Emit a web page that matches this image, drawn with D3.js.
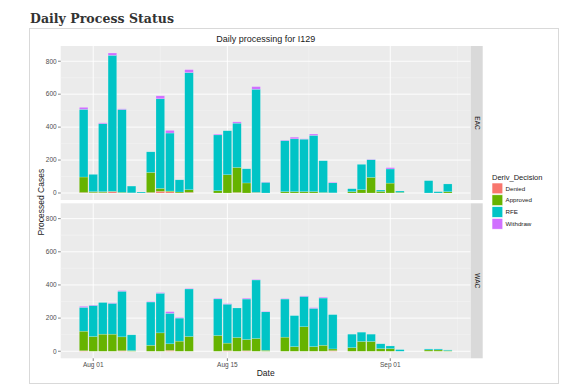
<!DOCTYPE html>
<html lang="en">
<head>
<meta charset="UTF-8" />
<title>Daily Process Status</title>
<script src="https://d3js.org/d3.v7.min.js"></script>
<style>
  body { margin: 0; background: #fff; }
  svg { display: block; font-family: "Liberation Sans", Arial, sans-serif; }
  .grid-major { stroke: #fff; stroke-width: 0.9px; }
  .grid-minor { stroke: #f4f4f4; stroke-width: 0.5px; }
  .tick-label { font-size: 6.5px; fill: #4d4d4d; }
  .tick-mark { stroke: #333; stroke-width: 0.6px; }
  .strip-text { font-size: 6.5px; fill: #1a1a1a; text-anchor: middle; }
  .bar { stroke: #fff; stroke-opacity: 0.35; stroke-width: 0.5px; }
</style>
</head>
<body>
<svg width="578" height="391"></svg>
<script>
// categories / data
const dates = ["2016-07-31","2016-08-01","2016-08-02","2016-08-03","2016-08-04","2016-08-05","2016-08-06",
  "2016-08-07","2016-08-08","2016-08-09","2016-08-10","2016-08-11",
  "2016-08-14","2016-08-15","2016-08-16","2016-08-17","2016-08-18","2016-08-19",
  "2016-08-21","2016-08-22","2016-08-23","2016-08-24","2016-08-25","2016-08-26",
  "2016-08-28","2016-08-29","2016-08-30","2016-08-31","2016-09-01","2016-09-02",
  "2016-09-05","2016-09-06","2016-09-07"];
const decisions = ["Denied", "Approved", "RFE", "Withdraw"];
const panels = ["EAC", "WAC"];

// EAC series
const eacDenied   = [3,2,2,8,0,0,0, 3,10,8,0,4, 0,0,3,0,2,0, 0,0,0,0,0,0, 0,0,0,0,0,0, 0,0,0];
const eacApproved = [94,6,6,2,4,1,0, 122,18,4,6,16, 14,111,152,61,2,0, 8,8,8,8,3,1, 8,20,95,10,60,4, 0,0,8];
const eacRFE      = [411,105,413,826,503,41,6, 125,544,352,74,711, 339,267,269,86,626,65, 310,321,319,342,193,61, 18,154,107,8,86,8, 75,8,47];
const eacWithdraw = [12,0,5,14,4,0,0, 0,18,16,0,18, 5,0,8,0,16,2, 3,10,2,8,0,4, 0,0,2,0,8,0, 0,0,0];

// WAC series
const wacDenied   = [3,0,0,0,3,0,0, 0,0,5,0,0, 0,3,0,3,0,0, 0,0,0,0,0,4, 0,0,0,0,0,0, 0,0,0];
const wacApproved = [118,89,103,103,84,4,0, 36,111,40,61,89, 95,46,83,68,77,6, 85,28,148,28,36,10, 22,59,59,16,16,0, 8,8,4];
const wacRFE      = [144,187,191,186,275,95,0, 261,239,184,139,287, 221,235,178,244,353,232, 230,187,183,231,285,207, 81,56,44,29,16,10, 6,6,4];
const wacWithdraw = [6,3,0,3,4,0,0, 3,4,10,4,3, 4,3,0,5,3,3, 3,0,3,4,5,0, 0,0,0,0,0,0, 0,0,0];

const yTicks = [0, 200, 400, 600, 800];
const yMinor = [100, 300, 500, 700];
const xTicks = ["2016-08-01", "2016-08-15", "2016-09-01"];
const xMinor = ["2016-08-08", "2016-08-23T12:00", "2016-09-08"];

const colors = ["#F8766D", "#66B300", "#00C4C6", "#D070FF"];

const series = {
  EAC: [eacDenied, eacApproved, eacRFE, eacWithdraw],
  WAC: [wacDenied, wacApproved, wacRFE, wacWithdraw]
};

const svg = d3.select("svg");
const parse = s => new Date(s + (s.length > 10 ? ":00Z" : "T00:00:00Z"));
const DAY = 864e5;

// page title and card
svg.append("text")
  .attr("x", 30).attr("y", 23)
  .attr("font-family", "'DejaVu Serif', serif")
  .attr("font-weight", "bold")
  .attr("font-size", 12.5)
  .attr("textLength", 144)
  .attr("fill", "#333")
  .text("Daily Process Status");

svg.append("rect")
  .attr("x", 29.5).attr("y", 28.5)
  .attr("width", 529).attr("height", 355)
  .attr("fill", "#fff")
  .attr("stroke", "#d9d9d9");

// layout
const px0 = 60.7, px1 = 470.7, stripW = 12;
const panelY = { EAC: [46, 200], WAC: [203.3, 358.3] };

// x scale: data range +-0.45 day, expanded 5%
const dts = dates.map(parse);
const lo = +d3.min(dts) - 0.45 * DAY, hi = +d3.max(dts) + 0.45 * DAY;
const pad = (hi - lo) * 0.05;
const x = d3.scaleUtc().domain([new Date(lo - pad), new Date(hi + pad)]).range([px0, px1]);
const barW = x(new Date(+dts[0] + 0.9 * DAY)) - x(dts[0]);

const yMax = 850, yPad = yMax * 0.05;

panels.forEach(p => {
  const [top, bot] = panelY[p];
  const y = d3.scaleLinear().domain([-yPad, yMax + yPad]).range([bot, top]);
  const g = svg.append("g");

  g.append("rect").attr("x", px0).attr("y", top)
    .attr("width", px1 - px0).attr("height", bot - top).attr("fill", "#ebebeb");

  g.selectAll(".ymin").data(yMinor).join("line").attr("class", "grid-minor")
    .attr("x1", px0).attr("x2", px1).attr("y1", d => y(d)).attr("y2", d => y(d));
  g.selectAll(".xmin").data(xMinor.map(parse)).join("line").attr("class", "grid-minor")
    .attr("y1", top).attr("y2", bot).attr("x1", d => x(d)).attr("x2", d => x(d));
  g.selectAll(".ymaj").data(yTicks).join("line").attr("class", "grid-major")
    .attr("x1", px0).attr("x2", px1).attr("y1", d => y(d)).attr("y2", d => y(d));
  g.selectAll(".xmaj").data(xTicks.map(parse)).join("line").attr("class", "grid-major")
    .attr("y1", top).attr("y2", bot).attr("x1", d => x(d)).attr("x2", d => x(d));

  // stacked bars
  const rows = dates.map((d, i) => {
    const r = { date: dts[i] };
    decisions.forEach((k, j) => r[k] = series[p][j][i]);
    return r;
  });
  const stack = d3.stack().keys(decisions)(rows);
  stack.forEach((layer, j) => {
    g.append("g").selectAll("rect").data(layer.filter(d => d[1] > d[0])).join("rect")
      .attr("class", "bar")
      .attr("fill", colors[j])
      .attr("x", d => x(d.data.date) - barW / 2)
      .attr("width", barW)
      .attr("y", d => y(d[1]))
      .attr("height", d => y(d[0]) - y(d[1]));
  });

  // y axis
  g.selectAll(".yt").data(yTicks).join("line").attr("class", "tick-mark")
    .attr("x1", px0 - 2.7).attr("x2", px0).attr("y1", d => y(d)).attr("y2", d => y(d));
  g.selectAll(".yl").data(yTicks).join("text").attr("class", "tick-label")
    .attr("x", px0 - 4).attr("y", d => y(d)).attr("dy", "0.35em")
    .attr("text-anchor", "end").text(d => d);

  // strip
  g.append("rect").attr("x", px1).attr("y", top)
    .attr("width", stripW).attr("height", bot - top).attr("fill", "#d9d9d9");
  g.append("text").attr("class", "strip-text")
    .attr("transform", `translate(${px1 + stripW / 2 - 2.2},${(top + bot) / 2}) rotate(90)`)
    .text(p);
});

// x axis on bottom panel
const xb = panelY.WAC[1];
const fmt = d3.utcFormat("%b %d");
svg.selectAll(".xt").data(xTicks.map(parse)).join("line").attr("class", "tick-mark")
  .attr("x1", d => x(d)).attr("x2", d => x(d)).attr("y1", xb).attr("y2", xb + 2.7);
svg.selectAll(".xl").data(xTicks.map(parse)).join("text").attr("class", "tick-label")
  .attr("x", d => x(d)).attr("y", xb + 8.5).attr("text-anchor", "middle").text(d => fmt(d));

// titles
svg.append("text").attr("x", (px0 + px1) / 2).attr("y", 41.5)
  .attr("text-anchor", "middle").attr("font-size", 9).attr("fill", "#1a1a1a")
  .text("Daily processing for I129");
svg.append("text").attr("x", (px0 + px1) / 2).attr("y", 376)
  .attr("text-anchor", "middle").attr("font-size", 8.5).attr("fill", "#1a1a1a")
  .text("Date");
svg.append("text")
  .attr("transform", `translate(44,${(panelY.EAC[0] + panelY.WAC[1]) / 2}) rotate(-90)`)
  .attr("text-anchor", "middle").attr("font-size", 8.5).attr("fill", "#1a1a1a")
  .text("Processed Cases");

// legend
const lg = svg.append("g").attr("transform", "translate(492,0)");
lg.append("text").attr("x", 0).attr("y", 179.5).attr("font-size", 7.5).attr("fill", "#1a1a1a")
  .text("Deriv_Decision");
const keys = lg.selectAll("g").data(decisions).join("g")
  .attr("transform", (d, i) => `translate(0,${183 + i * 11.8})`);
keys.append("rect").attr("width", 10.8).attr("height", 10.8)
  .attr("fill", (d, i) => colors[i]).attr("stroke", "#fff").attr("stroke-width", 0.6);
keys.append("text").attr("x", 13.5).attr("y", 5.4).attr("dy", "0.35em")
  .attr("font-size", 6.2).attr("fill", "#1a1a1a").text(d => d);
</script>
</body>
</html>
